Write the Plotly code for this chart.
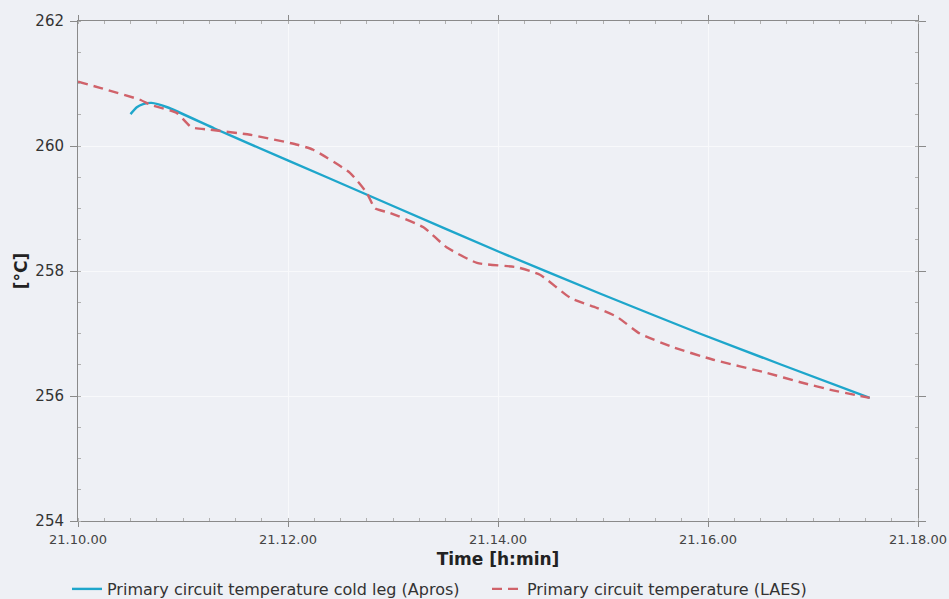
import plotly.graph_objects as go

# minutes after 21:10:00
apros_t = [0.50, 0.56, 0.62, 0.70, 0.85, 1.30, 1.64, 2.37, 3.00, 4.02, 4.97, 5.92, 6.70, 7.54]
apros_T = [260.51, 260.62, 260.67, 260.69, 260.62, 260.28, 260.03, 259.50, 259.04, 258.30, 257.64, 257.00, 256.50, 255.97]

laes_t = [0.00, 0.21, 0.59, 0.69, 0.94, 1.08, 1.26, 1.64, 2.09, 2.24, 2.59, 2.75, 2.83, 2.97, 3.29,
          3.51, 3.80, 4.18, 4.40, 4.69, 4.94, 5.13, 5.35, 5.67, 6.05, 6.56, 6.88, 7.19, 7.54]
laes_T = [261.03, 260.93, 260.74, 260.66, 260.53, 260.30, 260.26, 260.18, 260.02, 259.94, 259.57, 259.25,
          259.00, 258.93, 258.70, 258.38, 258.13, 258.06, 257.94, 257.57, 257.41, 257.27, 257.00, 256.78,
          256.58, 256.37, 256.22, 256.09, 255.97]

x_ticks = [0, 2, 4, 6, 8]
x_labels = ["21.10.00", "21.12.00", "21.14.00", "21.16.00", "21.18.00"]
y_ticks = [254, 256, 258, 260, 262]

fig = go.Figure()
fig.add_trace(go.Scatter(x=apros_t, y=apros_T, mode="lines",
                         line=dict(color="#1ea6cb", width=2.4, shape="spline", smoothing=0.5),
                         name="Primary circuit temperature cold leg (Apros)"))
fig.add_trace(go.Scatter(x=laes_t, y=laes_T, mode="lines",
                         line=dict(color="#d0626a", width=2.4, dash="10px,6px", shape="spline", smoothing=0.5),
                         name="Primary circuit temperature (LAES)"))

bg = "#eef0f5"
fig.update_layout(
    width=949, height=599,
    paper_bgcolor=bg, plot_bgcolor=bg,
    margin=dict(l=78, r=31, t=21, b=78, autoexpand=False),
    font=dict(family="DejaVu Sans", size=12, color="#333333"),
    showlegend=True,
    legend=dict(orientation="h", x=(67 - 78) / 840, xanchor="left", y=(521 - 589) / 500, yanchor="middle",
                font=dict(size=16, color="#333333"), itemwidth=30, entrywidth=375, entrywidthmode="pixels",
                bgcolor="rgba(0,0,0,0)"),
)
fig.update_xaxes(range=[0, 8], tickvals=x_ticks, ticktext=x_labels, showgrid=True, gridcolor="#f8f9fb",
                 zeroline=False, showline=True, linecolor="#8a8a8a", linewidth=1, mirror="ticks",
                 ticks="outside", ticklen=5, tickcolor="#8a8a8a", ticklabelstandoff=1, automargin=False,
                 minor=dict(dtick=0.25, ticks="inside", ticklen=3, tickcolor="#b0b0b0", showgrid=False),
                 title=dict(text="<b>Time [h:min]</b>", font=dict(size=17, color="#222222"), standoff=7),
                 tickfont=dict(size=13, color="#444444"))
fig.update_yaxes(range=[254, 262], tickvals=y_ticks, showgrid=True, gridcolor="#f8f9fb",
                 zeroline=False, showline=True, linecolor="#8a8a8a", linewidth=1, mirror="ticks",
                 ticks="outside", ticklen=7, tickcolor="#8a8a8a", ticklabelstandoff=3, automargin=False,
                 minor=dict(dtick=0.5, ticks="inside", ticklen=3, tickcolor="#b0b0b0", showgrid=False),
                 title=dict(text="<b>[°C]</b>", font=dict(size=17, color="#222222"), standoff=3),
                 tickfont=dict(size=15, color="#333333"))

fig.write_html("out.html", config={"displayModeBar": False},
               post_script="document.body.style.margin='0';")
